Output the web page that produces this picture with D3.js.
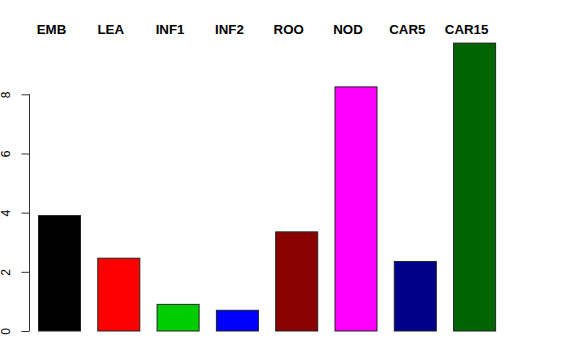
<!DOCTYPE html>
<html>
<head>
<meta charset="utf-8">
<script src="https://cdn.jsdelivr.net/npm/d3@7"></script>
<style>
  body { margin: 0; background: #fff; }
  text { font-family: "Liberation Sans", Arial, sans-serif; }
</style>
</head>
<body>
<script>
const largura = 576
const altura = 360

const categorias = ['EMB', 'LEA', 'INF1', 'INF2', 'ROO', 'NOD', 'CAR5', 'CAR15']
const valores = [3.9, 2.46, 0.9, 0.7, 3.35, 8.25, 2.35, 9.73]
const cores = ['#000000', '#FF0000', '#00CD00', '#0000FF', '#8B0000', '#FF00FF', '#00008B', '#006400']
const ticksY = [0, 2, 4, 6, 8]

var svg = d3.select('body').append('svg')
  .attr('width', largura)
  .attr('height', altura)

// escala y: 0 em 331px, 8 em 94.3px
var escalaY = d3.scaleLinear().domain([0, 8]).range([331, 94.3])

// passo de 59.3px, barra de 42px, primeira barra em x=38
var escalaX = d3.scaleBand()
  .domain(categorias)
  .range([38, 38 + 59.3 * (categorias.length - 0.2917)])
  .paddingInner(0.2917)
  .paddingOuter(0)

svg.selectAll('rect.barra')
  .data(valores)
  .enter().append('rect')
  .attr('class', 'barra')
  .attr('x', function (d, i) { return escalaX(categorias[i]) + 0.5 })
  .attr('width', escalaX.bandwidth())
  .attr('y', function (d) { return escalaY(d) })
  .attr('height', function (d) { return escalaY(0) - escalaY(d) })
  .attr('fill', function (d, i) { return cores[i] })
  .attr('stroke', '#222')
  .attr('stroke-width', 1)

svg.selectAll('text.rotulo')
  .data(categorias)
  .enter().append('text')
  .attr('class', 'rotulo')
  .attr('x', function (d) { return escalaX(d) + escalaX.bandwidth() / 2 - 7.5 })
  .attr('y', 34)
  .attr('text-anchor', 'middle')
  .style('font-weight', 'bold')
  .style('font-size', '13.3px')
  .text(function (d) { return d })

var eixoEsquerda = d3.axisLeft(escalaY)
  .tickValues(ticksY)
  .tickSize(8)
  .tickPadding(0)

var grupoEixo = svg.append('g')
  .attr('transform', 'translate(29.5,0)')
  .call(eixoEsquerda)

grupoEixo.select('.domain')
  .attr('d', 'M0,' + escalaY(0) + 'V' + escalaY(8))
  .attr('stroke', '#333')
grupoEixo.selectAll('.tick line').attr('stroke', '#333')
grupoEixo.selectAll('.tick text')
  .attr('x', 0)
  .attr('dy', 0)
  .attr('transform', 'translate(-19.5,0) rotate(-90)')
  .attr('text-anchor', 'middle')
  .style('font-family', '"Liberation Sans", Arial, sans-serif')
  .style('font-size', '12px')
  .attr('fill', '#000')
</script>
</body>
</html>
